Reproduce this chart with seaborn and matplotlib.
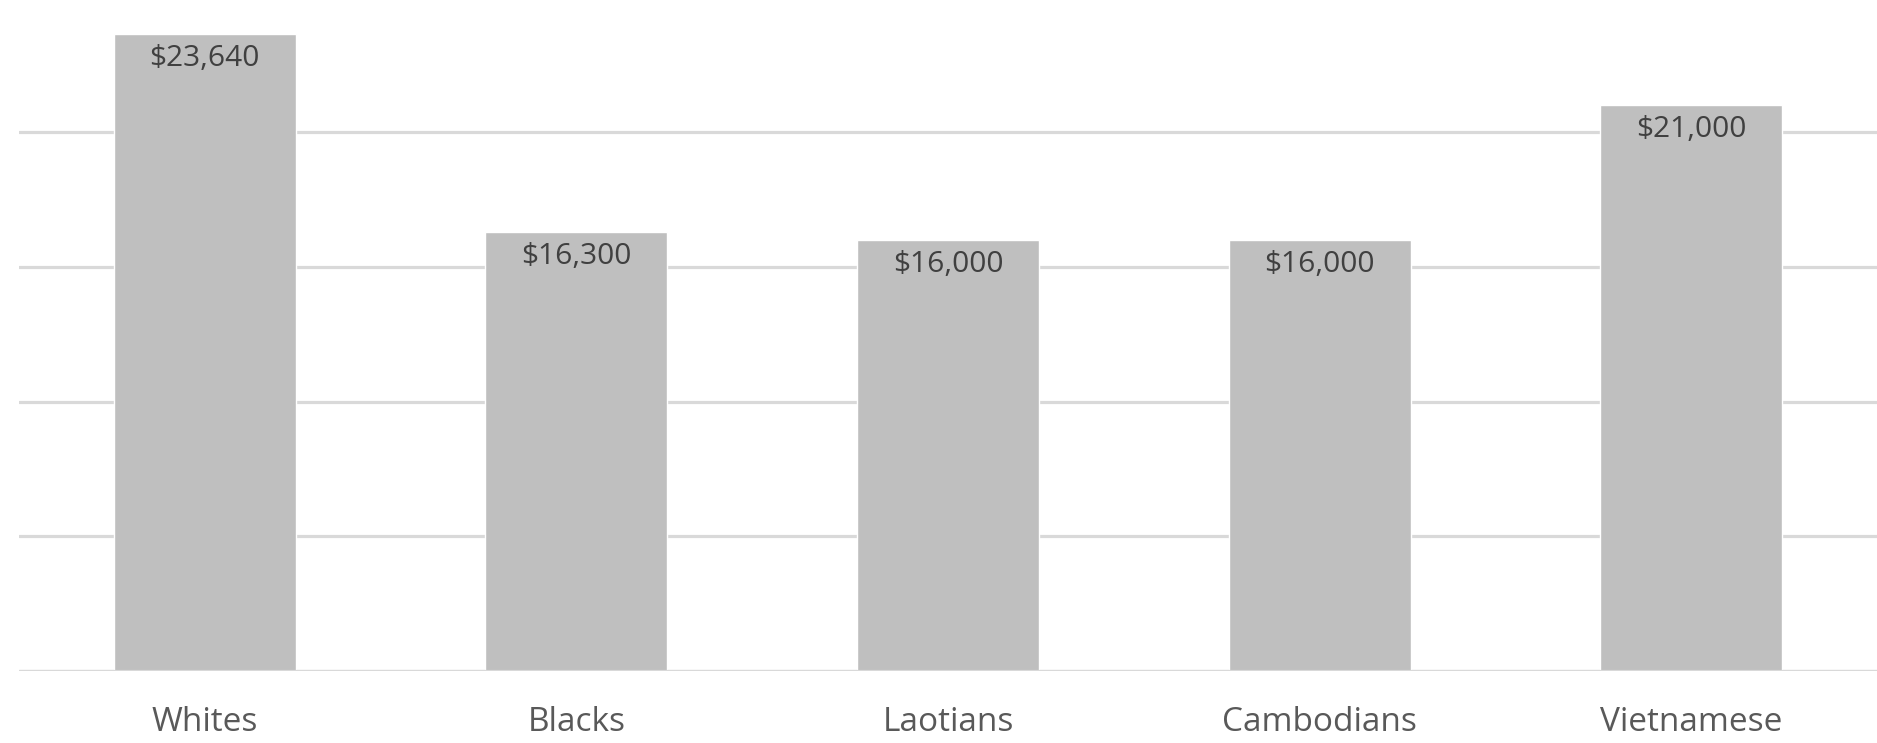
import numpy as np
import pandas as pd
import seaborn as sns
import matplotlib.pyplot as plt

groups = ["Whites", "Blacks", "Laotians", "Cambodians", "Vietnamese"]
incomes = [23640, 16300, 16000, 16000, 21000]
value_labels = ["$23,640", "$16,300", "$16,000", "$16,000", "$21,000"]
grid_levels = [0, 5000, 10000, 15000, 20000]

sns.set_theme(style = "white")
plt.rcParams['font.family'] = ['Open Sans', 'DejaVu Sans']

df = pd.DataFrame({"group": groups, "income": incomes})

fig = plt.figure(figsize = (18.77, 7.43), dpi = 100)
ax = fig.add_axes([19 / 1877, 72 / 743, 1858 / 1877, 671 / 743])

for lvl in grid_levels:
    ax.axhline(lvl, color = "#d9d9d9", lw = 2.3, zorder = 1)

sns.barplot(data = df, x = "group", y = "income", color = "#bfbfbf",
    saturation = 1, width = 0.49, ax = ax, zorder = 2)

ax.axhline(0, color = "#d9d9d9", lw = 2.3, zorder = 3)

for i, (v, lab) in enumerate(zip(incomes, value_labels)):
    ax.annotate(lab, xy = (i, v), xytext = (0, -7.5), textcoords = "offset points",
        ha = "center", va = "top", fontsize = 21.5, color = "#404040", zorder = 4)

ax.set_xlim(-0.5, 4.5)
ax.set_ylim(0, 24898)
ax.set_yticks([])
ax.set_xlabel("")
ax.set_ylabel("")
ax.tick_params(axis = "x", length = 0, pad = 25, labelsize = 24, labelcolor = "#595959")
for s in ax.spines.values():
    s.set_visible(False)

fig.savefig("out.png", dpi = 100)
